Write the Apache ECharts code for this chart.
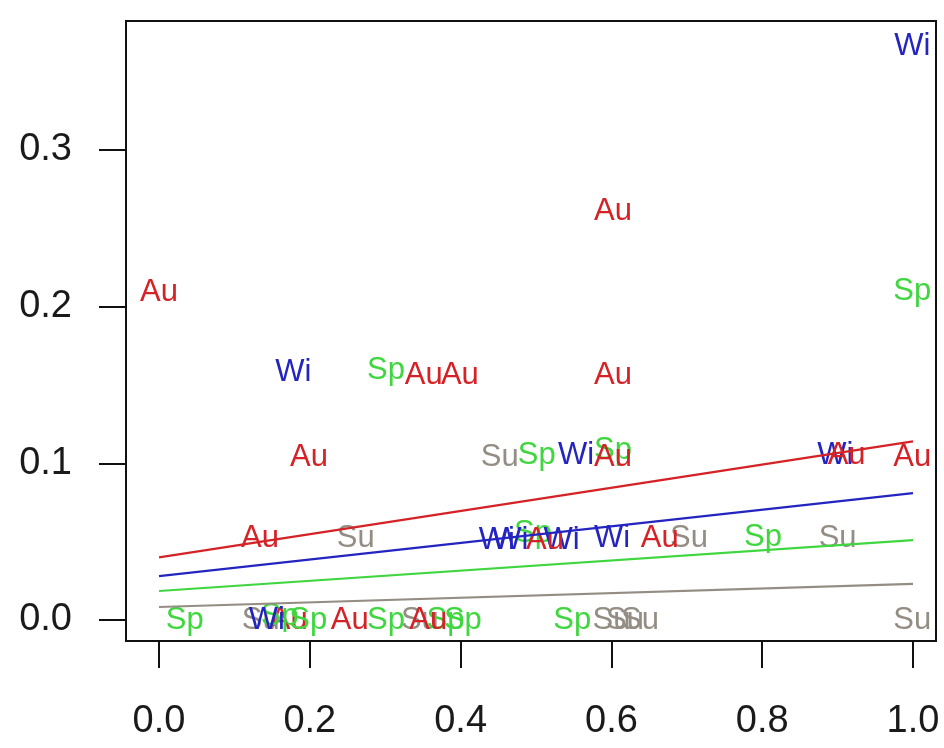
<!DOCTYPE html>
<html>
<head>
<meta charset="utf-8">
<script src="https://cdn.jsdelivr.net/npm/echarts@6/dist/echarts.min.js"></script>
<style>
  html, body { margin: 0; padding: 0; background: #fff; }
  #chart { width: 944px; height: 748px; }
</style>
</head>
<body>
<div id="chart"></div>
<script>
// Season observations: [x, y]
const auPoints = [
  [0.0, 0.209], [0.602, 0.261], [0.351, 0.156], [0.399, 0.156], [0.602, 0.156],
  [0.199, 0.104], [0.602, 0.104], [0.912, 0.105], [0.999, 0.104],
  [0.134, 0.052], [0.512, 0.051], [0.664, 0.052],
  [0.253, 0.0], [0.357, 0.0]
];
// Autumn points that sit underneath the other seasons' labels
const auLowPoints = [[0.172, 0.0]];
const wiPoints = [
  [0.999, 0.366], [0.178, 0.158], [0.553, 0.105], [0.897, 0.105],
  [0.448, 0.051], [0.466, 0.051], [0.534, 0.051], [0.601, 0.052],
  [0.143, 0.0]
];
const spPoints = [
  [0.999, 0.21], [0.301, 0.159], [0.501, 0.105], [0.602, 0.108],
  [0.496, 0.055], [0.801, 0.053],
  [0.034, 0.0], [0.16, 0.002], [0.198, 0.0], [0.301, 0.0], [0.38, 0.0], [0.403, 0.0], [0.548, 0.0]
];
const suPoints = [
  [0.452, 0.104], [0.261, 0.052], [0.703, 0.052], [0.9, 0.052],
  [0.135, 0.0], [0.346, 0.0], [0.6, 0.0], [0.618, 0.0], [0.638, 0.0], [0.999, 0.0]
];

// Fitted trend per season: value at x = 0 and at x = 1
const fitX = [0, 1];
const auFit = [0.040, 0.114];
const wiFit = [0.028, 0.081];
const spFit = [0.0185, 0.051];
const suFit = [0.0083, 0.023];

const xTicks = [0, 0.2, 0.4, 0.6, 0.8, 1.0];
const yTicks = [0, 0.1, 0.2, 0.3];

const colors = { Au: '#d42226', Wi: '#2424c0', Sp: '#3fd63f', Su: '#948d84' };
const FONT = '"Liberation Sans", Arial, Helvetica, sans-serif';

function textSeries(name, pts, z) {
  return {
    type: 'scatter', name: name, data: pts, z: z, silent: true,
    symbol: 'circle', symbolSize: 1,
    itemStyle: { color: 'rgba(0,0,0,0)', opacity: 1 },
    label: {
      show: true, position: 'inside', formatter: name, opacity: 1,
      color: colors[name], fontSize: 31, fontFamily: FONT
    }
  };
}
function fitSeries(name, fit) {
  return {
    type: 'line', name: name + ' fit', z: 6, silent: true, symbol: 'none',
    data: fitX.map((x, i) => [x, fit[i]]),
    lineStyle: { color: colors[name], width: 2.2 }
  };
}

const axisTextStyle = { color: '#1a1a1a', fontSize: 38, fontFamily: FONT };

const chart = echarts.init(document.getElementById('chart'), null, { renderer: 'canvas' });
chart.setOption({
  animation: false,
  backgroundColor: '#fff',
  grid: {
    left: 126, top: 21, width: 810, height: 620,
    show: true, borderColor: '#111', borderWidth: 2, backgroundColor: '#fff'
  },
  xAxis: {
    type: 'value', min: -0.0438, max: 1.0305,
    axisLine: { show: false, onZero: false }, splitLine: { show: false },
    axisTick: { show: true, inside: false, length: 27, customValues: xTicks, lineStyle: { color: '#111', width: 2 } },
    axisLabel: Object.assign({ customValues: xTicks, margin: 62, formatter: v => v.toFixed(1) }, axisTextStyle)
  },
  yAxis: {
    type: 'value', min: -0.0134, max: 0.3823,
    axisLine: { show: false, onZero: false }, splitLine: { show: false },
    axisTick: { show: true, inside: false, length: 27, customValues: yTicks, lineStyle: { color: '#111', width: 2 } },
    axisLabel: Object.assign({ customValues: yTicks, margin: 54, formatter: v => v.toFixed(1) }, axisTextStyle)
  },
  series: [
    textSeries('Au', auLowPoints, 1),
    textSeries('Su', suPoints, 2),
    textSeries('Sp', spPoints, 3),
    textSeries('Wi', wiPoints, 4),
    textSeries('Au', auPoints, 5),
    fitSeries('Au', auFit),
    fitSeries('Wi', wiFit),
    fitSeries('Sp', spFit),
    fitSeries('Su', suFit)
  ]
});
</script>
</body>
</html>
